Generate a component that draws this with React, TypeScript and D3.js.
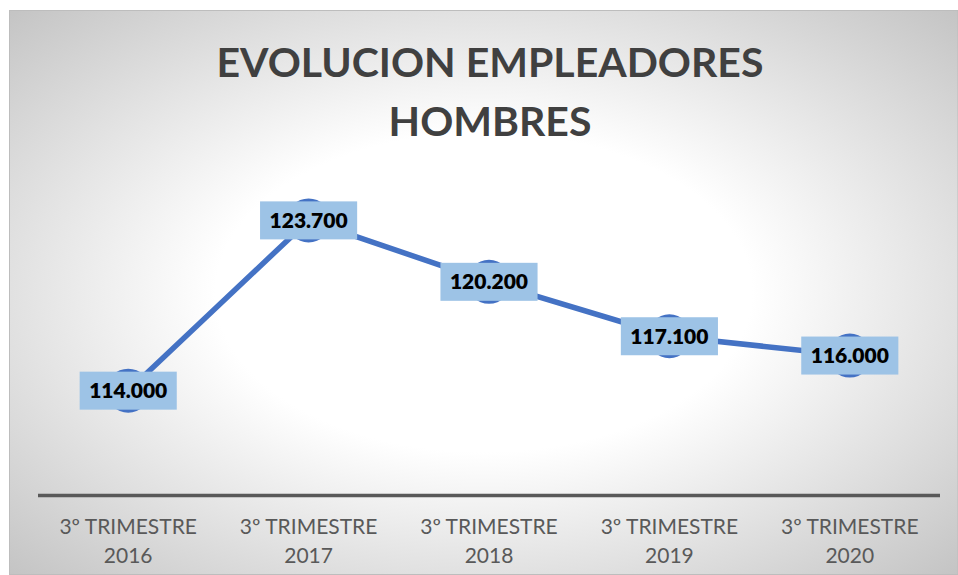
import React, { useEffect, useRef } from "react";
import * as d3 from "d3";

const categories = [
  ["3º TRIMESTRE", "2016"],
  ["3º TRIMESTRE", "2017"],
  ["3º TRIMESTRE", "2018"],
  ["3º TRIMESTRE", "2019"],
  ["3º TRIMESTRE", "2020"],
];
const values = [114000, 123700, 120200, 117100, 116000];
const labels = ["114.000", "123.700", "120.200", "117.100", "116.000"];
const titleLines = ["EVOLUCION EMPLEADORES", "HOMBRES"];
const yDomain = [108000, 126000];

const W = 958;
const H = 575;
const FONT = "Lato, 'Open Sans', sans-serif";

export default function App() {
  const ref = useRef<SVGSVGElement | null>(null);

  useEffect(() => {
    const svg = d3.select(ref.current);
    svg.selectAll("*").remove();

    const defs = svg.append("defs");
    const grad = defs
      .append("radialGradient")
      .attr("id", "bg")
      .attr("cx", "0.5")
      .attr("cy", "0.5")
      .attr("r", "0.707");
    grad.append("stop").attr("offset", "0").attr("stop-color", "#ffffff");
    grad.append("stop").attr("offset", "0.4").attr("stop-color", "#ffffff");
    grad.append("stop").attr("offset", "1").attr("stop-color", "#c4c4c4");

    // chart background
    svg
      .append("rect")
      .attr("x", 9.5)
      .attr("y", 10.5)
      .attr("width", W - 9.5)
      .attr("height", 564)
      .attr("fill", "url(#bg)")
      .attr("stroke", "#bdbdbd")
      .attr("stroke-width", 1);

    // title
    const title = svg
      .append("text")
      .attr("text-anchor", "middle")
      .attr("font-family", FONT)
      .attr("font-weight", 700)
      .attr("font-size", 41)
      .attr("fill", "#404040");
    titleLines.forEach((t, i) => {
      title
        .append("tspan")
        .attr("x", 490)
        .attr("y", 77 + i * 59)
        .text(t);
    });

    const x = d3
      .scaleBand<number>()
      .domain(d3.range(categories.length))
      .range([38, 940]);
    const y = d3.scaleLinear().domain(yDomain).range([496, 180]);
    const cx = (i: number) => (x(i) as number) + x.bandwidth() / 2;

    // axis line
    svg
      .append("line")
      .attr("x1", 38)
      .attr("x2", 940)
      .attr("y1", 495.5)
      .attr("y2", 495.5)
      .attr("stroke", "#595959")
      .attr("stroke-width", 3.5);

    // category labels
    categories.forEach((c, i) => {
      const t = svg
        .append("text")
        .attr("text-anchor", "middle")
        .attr("font-family", FONT)
        .attr("font-size", 21)
        .attr("fill", "#595959");
      c.forEach((line, j) => {
        t.append("tspan")
          .attr("x", cx(i))
          .attr("y", 534 + j * 29)
          .text(line);
      });
    });

    // line
    const lineGen = d3
      .line<number>()
      .x((_, i) => cx(i))
      .y((d) => y(d));
    svg
      .append("path")
      .datum(values)
      .attr("d", lineGen)
      .attr("fill", "none")
      .attr("stroke", "#4472c4")
      .attr("stroke-width", 5.5)
      .attr("stroke-linejoin", "round");

    // markers
    svg
      .selectAll("circle.m")
      .data(values)
      .enter()
      .append("circle")
      .attr("class", "m")
      .attr("cx", (_, i) => cx(i))
      .attr("cy", (d) => y(d))
      .attr("r", 22)
      .attr("fill", "#4472c4");

    // data labels
    values.forEach((v, i) => {
      const g = svg.append("g");
      const rect = g.append("rect").attr("fill", "#9dc3e6");
      const t = g
        .append("text")
        .attr("x", cx(i))
        .attr("y", y(v))
        .attr("dy", "0.36em")
        .attr("text-anchor", "middle")
        .attr("font-family", FONT)
        .attr("font-weight", 800)
        .attr("font-size", 21)
        .attr("fill", "#000000")
        .text(labels[i]);
      const tw = (t.node() as SVGTextElement).getComputedTextLength();
      const bw = tw + 19;
      const bh = 38;
      rect
        .attr("x", cx(i) - bw / 2)
        .attr("y", y(v) - bh / 2)
        .attr("width", bw)
        .attr("height", bh);
    });
  }, []);

  return (
    <svg
      ref={ref}
      width={W}
      height={H}
      style={{ position: "absolute", left: 0, top: 0, display: "block" }}
    />
  );
}
